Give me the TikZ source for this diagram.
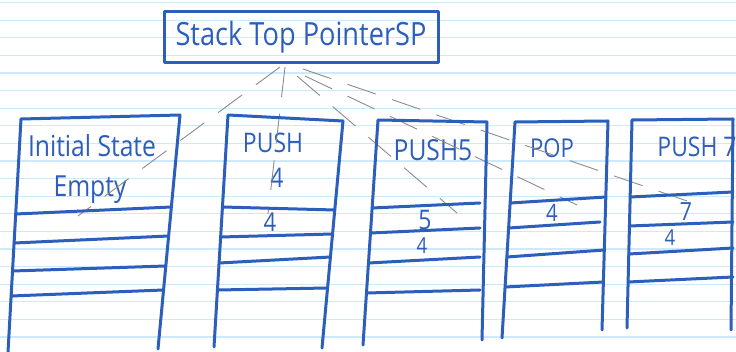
\documentclass[tikz,border=0pt]{standalone}
\usepackage{fontspec}
\newfontfamily\handfont[FakeStretch=0.85]{Open Sans}
\usetikzlibrary{calc}
\definecolor{penblue}{RGB}{44,94,188}
\definecolor{ruleblue}{RGB}{206,234,250}
\definecolor{ptrgray}{RGB}{140,140,140}
\tikzset{
  pen/.style={draw=penblue, line width=3pt, line cap=round, line join=round},
  hand/.style={text=penblue, font=\handfont, inner sep=0pt},
  ptr/.style={draw=ptrgray, line width=0.9pt, dash pattern=on 30pt off 17pt},
  rule/.style={draw=ruleblue, line width=1.2pt}
}
\begin{document}
\begin{tikzpicture}[x=1pt,y=-1pt]
\path[use as bounding box, fill=white] (0,0) rectangle (736,352);
% ruled paper
\foreach \k in {0,...,19} {
  \draw[rule] (0,{2.7+17.6*\k}) -- (736,{2.7+17.6*\k});
}
% stack pointer box
\node[pen, hand, minimum width=274pt, minimum height=51pt, font=\handfont\fontsize{32}{34}\selectfont] (sp) at (301,37) {Stack Top PointerSP};

% stack texts
\node[hand, font=\handfont\fontsize{29}{30}\selectfont] (t1a) at (92,146) {Initial State};
\node[hand, font=\handfont\fontsize{29}{30}\selectfont] (t1b) at (90,190) {Empty};
\node[hand, font=\handfont\fontsize{27}{28}\selectfont] (t2a) at (273,143) {PUSH};
\node[hand, font=\handfont\fontsize{27}{28}\selectfont] (t2b) at (277,178) {4};
\node[hand, font=\handfont\fontsize{26}{28}\selectfont] (v2) at (270,222) {4};
\node[hand, font=\handfont\fontsize{29}{30}\selectfont] (t3) at (433,150) {PUSH5};
\node[hand, font=\handfont\fontsize{27}{28}\selectfont] (v3a) at (425,220) {5};
\node[hand, font=\handfont\fontsize{22}{24}\selectfont] (v3b) at (422,246) {4};
\node[hand, font=\handfont\fontsize{26}{28}\selectfont] (t4) at (552,148) {POP};
\node[hand, font=\handfont\fontsize{24}{24}\selectfont] (v4) at (552,213) {4};
\node[hand, font=\handfont\fontsize{27}{28}\selectfont] (t5) at (697,147) {PUSH 7};
\node[hand, font=\handfont\fontsize{25}{24}\selectfont] (v5a) at (686,212) {7};
\node[hand, font=\handfont\fontsize{22}{24}\selectfont] (v5b) at (670,238) {4};

% pointer lines
\coordinate (s1) at ($(sp.south)+(-21,3)$);
\coordinate (s2) at ($(sp.south)+(-16,3)$);
\coordinate (s3) at ($(sp.south)+(-4,12)$);
\coordinate (s4) at ($(sp.south)+(4,12)$);
\coordinate (s5) at ($(sp.south)+(2,5)$);
\coordinate (e1) at (78,216);
\coordinate (e2) at (268,214);
\coordinate (e3) at (457,213);
\coordinate (e4) at (577,205);
\coordinate (e5) at (690,202);
\draw[ptr] (s1) -- (e1);
\draw[ptr] (s2) -- (e2);
\draw[ptr] (s3) -- (e3);
\draw[ptr] (s4) -- (e4);
\draw[ptr] (s5) -- (e5);

% stack 1
\draw[pen] (8,352) -- (21,119) -- (180,115) -- (158,349);
\draw[pen] (15.7,214) -- (171.4,207);
\draw[pen] (14.1,243) -- (168.6,236);
\draw[pen] (12.5,271) -- (165.8,266);
\draw[pen] (11.1,296) -- (163.5,290);
% stack 2
\draw[pen] (214,347) -- (228,115) -- (343,121) -- (322,348);
\draw[pen] (222.4,207) -- (334.8,210);
\draw[pen] (220.6,237) -- (332.5,234);
\draw[pen] (219.1,263) -- (330.4,257);
\draw[pen] (217.4,290) -- (327.6,288);
% stack 3
\draw[pen] (363,345) -- (378,120) -- (487,122) -- (482,340);
\draw[pen] (372.1,208) -- (480,203);
\draw[pen] (370.5,233) -- (480,228);
\draw[pen] (368.5,263) -- (480,257);
\draw[pen] (366.5,293) -- (480,290);
% stack 4
\draw[pen] (502,338) -- (515,122) -- (608,121) -- (602,330);
\draw[pen] (510.1,203) -- (605.8,197);
\draw[pen] (508.6,228) -- (600,222);
\draw[pen] (506.9,257) -- (604.3,250);
\draw[pen] (505.1,287) -- (603.4,282);
% stack 5
\draw[pen] (627,328) -- (632,120) -- (733,119) -- (731,330);
\draw[pen] (630.1,197) -- (733,192);
\draw[pen] (629.5,226) -- (733,222);
\draw[pen] (628.8,254) -- (733,248);
\draw[pen] (628.1,282) -- (733,277);
\end{tikzpicture}
\end{document}
